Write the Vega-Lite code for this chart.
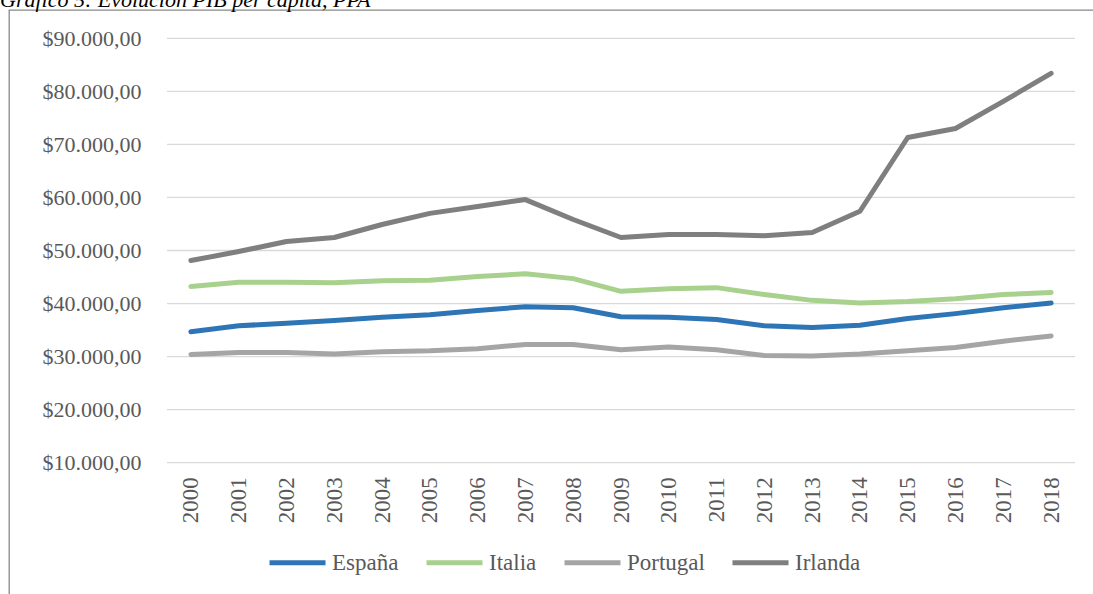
{
  "$schema": "https://vega.github.io/schema/vega-lite/v6.json",
  "width": 1090,
  "height": 590,
  "autosize": {"type": "none"},
  "padding": {"left": 9, "top": 10, "right": -6, "bottom": -6},
  "background": "white",
  "title": {
    "text": "Gráfico 5: Evolución PIB per cápita, PPA",
    "anchor": "start",
    "frame": "group",
    "font": "Liberation Serif",
    "fontStyle": "italic",
    "fontWeight": "normal",
    "fontSize": 22,
    "color": "#000000",
    "baseline": "alphabetic",
    "offset": -19,
    "dx": -9
  },
  "config": {
    "view": {"stroke": "#888888", "strokeWidth": 1.3},
    "locale": {
      "number": {"decimal": ",", "thousands": ".", "grouping": [3], "currency": ["$", ""]}
    }
  },
  "datasets": {
    "grid": [
      {"v": 10000}, {"v": 20000}, {"v": 30000}, {"v": 40000}, {"v": 50000},
      {"v": 60000}, {"v": 70000}, {"v": 80000}, {"v": 90000}
    ],
    "series": [
      {"year": 2000, "pais": "España", "value": 34700},
      {"year": 2001, "pais": "España", "value": 35800},
      {"year": 2002, "pais": "España", "value": 36300},
      {"year": 2003, "pais": "España", "value": 36800},
      {"year": 2004, "pais": "España", "value": 37400},
      {"year": 2005, "pais": "España", "value": 37900},
      {"year": 2006, "pais": "España", "value": 38700},
      {"year": 2007, "pais": "España", "value": 39400},
      {"year": 2008, "pais": "España", "value": 39200},
      {"year": 2009, "pais": "España", "value": 37500},
      {"year": 2010, "pais": "España", "value": 37400},
      {"year": 2011, "pais": "España", "value": 37000},
      {"year": 2012, "pais": "España", "value": 35800},
      {"year": 2013, "pais": "España", "value": 35500},
      {"year": 2014, "pais": "España", "value": 35900},
      {"year": 2015, "pais": "España", "value": 37200},
      {"year": 2016, "pais": "España", "value": 38100},
      {"year": 2017, "pais": "España", "value": 39200},
      {"year": 2018, "pais": "España", "value": 40100},
      {"year": 2000, "pais": "Italia", "value": 43200},
      {"year": 2001, "pais": "Italia", "value": 44000},
      {"year": 2002, "pais": "Italia", "value": 44000},
      {"year": 2003, "pais": "Italia", "value": 43900},
      {"year": 2004, "pais": "Italia", "value": 44300},
      {"year": 2005, "pais": "Italia", "value": 44400},
      {"year": 2006, "pais": "Italia", "value": 45100},
      {"year": 2007, "pais": "Italia", "value": 45600},
      {"year": 2008, "pais": "Italia", "value": 44700},
      {"year": 2009, "pais": "Italia", "value": 42300},
      {"year": 2010, "pais": "Italia", "value": 42800},
      {"year": 2011, "pais": "Italia", "value": 43000},
      {"year": 2012, "pais": "Italia", "value": 41700},
      {"year": 2013, "pais": "Italia", "value": 40600},
      {"year": 2014, "pais": "Italia", "value": 40100},
      {"year": 2015, "pais": "Italia", "value": 40400},
      {"year": 2016, "pais": "Italia", "value": 40900},
      {"year": 2017, "pais": "Italia", "value": 41700},
      {"year": 2018, "pais": "Italia", "value": 42100},
      {"year": 2000, "pais": "Portugal", "value": 30400},
      {"year": 2001, "pais": "Portugal", "value": 30750},
      {"year": 2002, "pais": "Portugal", "value": 30750},
      {"year": 2003, "pais": "Portugal", "value": 30500},
      {"year": 2004, "pais": "Portugal", "value": 30900},
      {"year": 2005, "pais": "Portugal", "value": 31100},
      {"year": 2006, "pais": "Portugal", "value": 31500},
      {"year": 2007, "pais": "Portugal", "value": 32300},
      {"year": 2008, "pais": "Portugal", "value": 32300},
      {"year": 2009, "pais": "Portugal", "value": 31300},
      {"year": 2010, "pais": "Portugal", "value": 31800},
      {"year": 2011, "pais": "Portugal", "value": 31300},
      {"year": 2012, "pais": "Portugal", "value": 30200},
      {"year": 2013, "pais": "Portugal", "value": 30100},
      {"year": 2014, "pais": "Portugal", "value": 30500},
      {"year": 2015, "pais": "Portugal", "value": 31100},
      {"year": 2016, "pais": "Portugal", "value": 31700},
      {"year": 2017, "pais": "Portugal", "value": 32900},
      {"year": 2018, "pais": "Portugal", "value": 33900},
      {"year": 2000, "pais": "Irlanda", "value": 48100},
      {"year": 2001, "pais": "Irlanda", "value": 49800},
      {"year": 2002, "pais": "Irlanda", "value": 51700},
      {"year": 2003, "pais": "Irlanda", "value": 52450},
      {"year": 2004, "pais": "Irlanda", "value": 54900},
      {"year": 2005, "pais": "Irlanda", "value": 57000},
      {"year": 2006, "pais": "Irlanda", "value": 58300},
      {"year": 2007, "pais": "Irlanda", "value": 59600},
      {"year": 2008, "pais": "Irlanda", "value": 55850},
      {"year": 2009, "pais": "Irlanda", "value": 52450},
      {"year": 2010, "pais": "Irlanda", "value": 53000},
      {"year": 2011, "pais": "Irlanda", "value": 53000},
      {"year": 2012, "pais": "Irlanda", "value": 52800},
      {"year": 2013, "pais": "Irlanda", "value": 53400},
      {"year": 2014, "pais": "Irlanda", "value": 57400},
      {"year": 2015, "pais": "Irlanda", "value": 71300},
      {"year": 2016, "pais": "Irlanda", "value": 73000},
      {"year": 2017, "pais": "Irlanda", "value": 78100},
      {"year": 2018, "pais": "Irlanda", "value": 83400}
    ]
  },
  "layer": [
    {
      "data": {"name": "grid"},
      "mark": {"type": "rule", "color": "#D9D9D9", "strokeWidth": 1.3},
      "encoding": {
        "x": {"datum": 1999.5, "type": "quantitative"},
        "x2": {"datum": 2018.5},
        "y": {"field": "v", "type": "quantitative"}
      }
    },
    {
      "data": {"name": "series"},
      "mark": {"type": "line", "strokeWidth": 5, "strokeCap": "round", "strokeJoin": "round"},
      "encoding": {
        "x": {
          "field": "year",
          "type": "quantitative",
          "scale": {"domain": [1996.194, 2019.002], "nice": false, "zero": false},
          "axis": {
            "title": null,
            "orient": "bottom",
            "offset": -137.3,
            "values": [2000, 2001, 2002, 2003, 2004, 2005, 2006, 2007, 2008, 2009, 2010, 2011, 2012, 2013, 2014, 2015, 2016, 2017, 2018],
            "format": "d",
            "labelAngle": 270,
            "labelAlign": "right",
            "labelBaseline": "middle",
            "labelPadding": 14,
            "labelFont": "Liberation Serif",
            "labelFontSize": 23,
            "labelColor": "#595959",
            "labelOverlap": false,
            "labelFlush": false,
            "ticks": false,
            "domain": false,
            "grid": false
          }
        },
        "y": {
          "field": "value",
          "type": "quantitative",
          "scale": {"domain": [-15881, 95335], "nice": false, "zero": false},
          "axis": {
            "title": null,
            "orient": "left",
            "offset": -158,
            "values": [10000, 20000, 30000, 40000, 50000, 60000, 70000, 80000, 90000],
            "format": "$,.2f",
            "labelPadding": 26,
            "labelFont": "Liberation Serif",
            "labelFontSize": 22,
            "labelColor": "#595959",
            "labelOverlap": false,
            "labelFlush": false,
            "ticks": false,
            "domain": false,
            "grid": false
          }
        },
        "color": {
          "field": "pais",
          "type": "nominal",
          "scale": {
            "domain": ["España", "Italia", "Portugal", "Irlanda"],
            "range": ["#2E75B6", "#A9D18E", "#A5A5A5", "#7F7F7F"]
          },
          "legend": {
            "title": null,
            "orient": "none",
            "direction": "horizontal",
            "legendX": 258,
            "legendY": 522,
            "padding": 0,
            "symbolType": "stroke",
            "symbolSize": 3136,
            "symbolStrokeWidth": 5,
            "labelFont": "Liberation Serif",
            "labelFontSize": 23,
            "labelColor": "#595959",
            "labelOffset": 4,
            "columnPadding": 17
          }
        }
      }
    }
  ]
}
